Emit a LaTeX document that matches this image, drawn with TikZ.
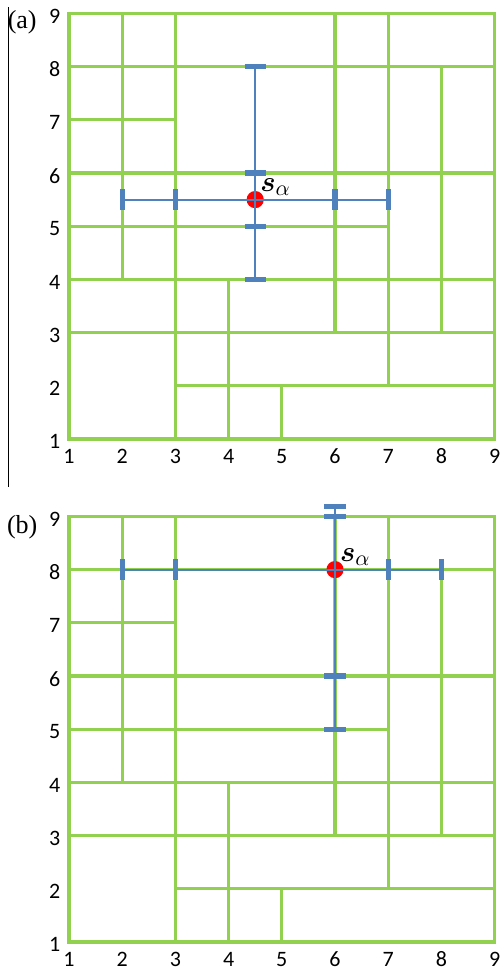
\documentclass[tikz,border=0pt]{standalone}
\usepackage{amsmath,bm}
\usepackage{fontspec}
\usepackage{tikz}
\usetikzlibrary{arrows.meta,positioning,calc}
\newfontfamily\axisfont{Carlito}
\newfontfamily\panelfont{Liberation Serif}
\definecolor{CellGreen}{RGB}{146,208,80}
\definecolor{RayBlue}{RGB}{79,129,189}
\definecolor{SeedRed}{RGB}{255,0,0}

\tikzset{
  gridline/.style={CellGreen, line width=1.6pt},
  rayline/.style={RayBlue, line width=1pt},
  raystop/.style={RayBlue, line width=2.6pt},
  seed/.style={circle, fill=SeedRed, inner sep=0pt, minimum size=8.6pt},
  axislabel/.style={font=\axisfont\fontsize{11}{12}\selectfont, inner sep=0.5pt},
  panellabel/.style={font=\panelfont\fontsize{13}{15}\selectfont, inner sep=0pt},
  seedlabel/.style={font=\fontsize{15}{17}\selectfont, inner sep=0pt}
}

% the partition of the 8x8 square, drawn in both panels
\newcommand{\partitiongrid}{%
  \foreach \xa/\ya/\xb/\yb in {1/8/9/8, 1/7/3/7, 1/6/9/6, 1/5/7/5, 1/4/9/4, 1/3/9/3, 3/2/9/2,
                               2/4/2/9, 3/1/3/9, 4/1/4/4, 5/1/5/2, 6/3/6/9, 7/2/7/9, 8/3/8/8}
    \draw[gridline] (\xa,\ya) -- (\xb,\yb);
  \draw[gridline] (1,1) rectangle (9,9);
  \foreach \i in {1,...,9} {
    \node[axislabel] (x\i) at (\i,0.67) {\i};
    \node[axislabel, anchor=east] (y\i) at (0.86,\i-0.05) {\i};
  }%
}

\begin{document}
\begin{tikzpicture}[x=26.6pt, y=26.6pt]
  \useasboundingbox (-0.297,0.455) rectangle (9.158,18.707);

  % (a) seed inside the square
  \begin{scope}[shift={(0,9.455)}, name prefix=a-]
    \partitiongrid
    \draw[black, line width=0.5pt] (-0.13,0.1) -- (-0.13,9.12);
    \node[panellabel] (tag) at (0.12,8.84) {(a)};
    \node[seed] (s) at (4.5,5.5) {};
    \node[seedlabel, anchor=base west] (slab) at (4.59,5.66) {$\bm{s}_{\alpha}$};
    \coordinate (w) at (2,5.5);   \coordinate (e) at (7,5.5);
    \coordinate (sth) at (4.5,4); \coordinate (nth) at (4.5,8);
    \draw[rayline] (w) -- (e);
    \draw[rayline] (sth) -- (nth);
    \foreach \x in {2,3,6,7} \draw[raystop] (\x,5.3) -- (\x,5.7);
    \foreach \y in {4,5,6,8} \draw[raystop] (4.3,\y) -- (4.7,\y);
  \end{scope}

  % (b) seed on a cell border
  \begin{scope}[name prefix=b-]
    \partitiongrid
    \node[panellabel] (tag) at (0.12,8.8) {(b)};
    \node[seed] (s) at (6,8) {};
    \node[seedlabel, anchor=base west] (slab) at (6.09,8.16) {$\bm{s}_{\alpha}$};
    \coordinate (w) at (2,8);   \coordinate (e) at (8,8);
    \coordinate (sth) at (6,5); \coordinate (nth) at (6,9.19);
    \draw[rayline] (w) -- (e);
    \draw[rayline] (sth) -- (nth);
    \foreach \x in {2,3,7,8} \draw[raystop] (\x,7.8) -- (\x,8.2);
    \foreach \y in {5,6,9,9.19} \draw[raystop] (5.8,\y) -- (6.2,\y);
  \end{scope}
\end{tikzpicture}
\end{document}
